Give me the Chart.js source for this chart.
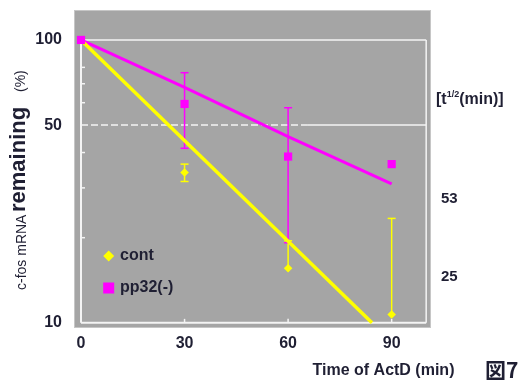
<!DOCTYPE html>
<html><head><meta charset="utf-8">
<script src="https://cdn.jsdelivr.net/npm/chart.js@4"></script>
<style>html,body{margin:0;padding:0;background:#fff;}#wrap{width:521px;height:380px;}</style>
</head><body><div id="wrap"><canvas id="c" width="521" height="380"></canvas></div>
<script>
// ---- data ----
const timePoints = [0, 30, 60, 90];
const contValues = [100, 34.0, 15.6, 10.7];
const contErrHigh = [null, 36.4, 19.5, 23.4];
const contErrLow = [null, 31.6, null, null];
const pp32Values = [100, 59.4, 38.7, 36.4];
const pp32ErrHigh = [null, 76.6, 57.6, null];
const pp32ErrLow = [null, 41.4, 19.2, null];
const contFitX = [0, 84.3];
const contFitY = [100, 10];
const pp32FitX = [0, 30, 60, 90];
const pp32FitY = [100, 68, 45.5, 31];
const xTicks = [0, 30, 60, 90];
const yTicks = [10, 50, 100];
const yMinorTicks = [20, 30, 40, 60, 70, 80];
const seriesNames = ['cont', 'pp32(-)'];
const halfLives = ['53', '25'];

const TEXT = '#1f1f33';
const FONT = '"Liberation Sans", Arial, sans-serif';
const YELLOW = '#ffff00', MAGENTA = '#ff00ff';

const toPts = (xs, ys) => xs.map((v, i) => ({x: v, y: ys[i]}));

const deco = {
  id: 'deco',
  beforeDraw(chart) {
    const {ctx, chartArea: a} = chart;
    ctx.save();
    ctx.fillStyle = '#a5a5a5';
    ctx.fillRect(a.left, a.top, a.right - a.left, a.bottom - a.top);
    ctx.strokeStyle = '#c6c6c6'; ctx.lineWidth = 1;
    ctx.strokeRect(a.left + 0.5, a.top + 0.5, a.right - a.left - 1, a.bottom - a.top - 1);
    ctx.restore();
  },
  beforeDatasetsDraw(chart) {
    const {ctx, scales: {x, y}} = chart;
    const line = (x1, y1, x2, y2) => { ctx.beginPath(); ctx.moveTo(x1, y1); ctx.lineTo(x2, y2); ctx.stroke(); };
    const x0 = x.getPixelForValue(0), x1 = x.getPixelForValue(100);
    const yT = y.getPixelForValue(100), yB = y.getPixelForValue(10), y50 = y.getPixelForValue(50);
    ctx.save();
    ctx.strokeStyle = '#f4f4f4';
    ctx.lineWidth = 1.5;
    line(x0, yT, x1, yT); line(x1, yT, x1, yB);
    const xd = x.getPixelForValue(65.5);
    line(xd, y50, x1, y50);
    ctx.setLineDash([7, 3]); line(x0, y50, xd, y50); ctx.setLineDash([]);
    ctx.lineWidth = 2;
    line(x0, yT - 1, x0, yB); line(x0, yB, x1, yB);
    ctx.lineWidth = 1.5;
    yMinorTicks.forEach(v => { const p = y.getPixelForValue(v); line(x0, p, x0 + 4, p); });
    xTicks.slice(1).forEach(v => { const p = x.getPixelForValue(v); line(p, yB, p, yB - 4); });
    const drawErr = (vals, hi, lo, color) => {
      ctx.strokeStyle = color; ctx.lineWidth = 1.5;
      timePoints.forEach((t, i) => {
        const px = x.getPixelForValue(t), c = y.getPixelForValue(vals[i]);
        if (hi[i] != null) { const p = y.getPixelForValue(hi[i]); line(px, c, px, p); line(px - 4, p, px + 4, p); }
        if (lo[i] != null) { const p = y.getPixelForValue(lo[i]); line(px, c, px, p); line(px - 4, p, px + 4, p); }
      });
    };
    drawErr(contValues, contErrHigh, contErrLow, YELLOW);
    drawErr(pp32Values, pp32ErrHigh, pp32ErrLow, MAGENTA);
    ctx.restore();
  },
  afterDraw(chart) {
    const {ctx} = chart;
    ctx.save();
    ctx.fillStyle = TEXT;
    // y title
    ctx.save();
    ctx.translate(26, 290); ctx.rotate(-Math.PI / 2);
    ctx.textAlign = 'left'; ctx.textBaseline = 'alphabetic';
    ctx.font = '14px ' + FONT; ctx.fillText('c-fos mRNA', 0, 0);
    ctx.font = 'bold 22px ' + FONT; ctx.fillText('remaining', 78, -1);
    ctx.font = '14px ' + FONT; ctx.fillText('(%)', 198, -1);
    ctx.restore();
    // x title
    ctx.textAlign = 'center'; ctx.textBaseline = 'middle';
    ctx.font = 'bold 16px ' + FONT; ctx.fillText('Time of ActD (min)', 383.5, 371);
    ctx.textAlign = 'left';
    ctx.font = 'bold 21px "Noto Sans CJK JP", ' + FONT; ctx.fillText('図7', 485, 370);
    // half-life annotation
    ctx.font = 'bold 16px ' + FONT;
    let tx = 436;
    ctx.fillText('[t', tx, 100); tx += ctx.measureText('[t').width;
    ctx.font = 'bold 9px ' + FONT; ctx.fillText('1/2', tx, 95); tx += ctx.measureText('1/2').width;
    ctx.font = 'bold 16px ' + FONT; ctx.fillText('(min)]', tx, 100);
    ctx.font = 'bold 15px ' + FONT;
    ctx.fillText(halfLives[0], 441, 199);
    ctx.fillText(halfLives[1], 441, 277);
    // legend
    ctx.fillStyle = YELLOW;
    ctx.beginPath(); ctx.moveTo(103.2, 256); ctx.lineTo(108.7, 250.5); ctx.lineTo(114.2, 256); ctx.lineTo(108.7, 261.5); ctx.closePath(); ctx.fill();
    ctx.fillStyle = MAGENTA; ctx.fillRect(103.2, 282.5, 11, 11);
    ctx.fillStyle = TEXT; ctx.font = 'bold 16px ' + FONT;
    ctx.fillText(seriesNames[0], 120, 256);
    ctx.fillText(seriesNames[1], 120, 288);
    ctx.restore();
  }
};

new Chart(document.getElementById('c'), {
  type: 'scatter',
  data: {
    datasets: [
      {label: seriesNames[1], data: toPts(timePoints, pp32Values), pointStyle: 'rect', pointRadius: 5.8,
       backgroundColor: MAGENTA, borderColor: MAGENTA, pointBorderWidth: 0, showLine: false},
      {label: seriesNames[0], data: toPts(timePoints, contValues), pointStyle: 'rectRot', pointRadius: 4.3,
       backgroundColor: YELLOW, borderColor: YELLOW, pointBorderWidth: 0, showLine: false},
      {label: 'cont fit', data: toPts(contFitX, contFitY), showLine: true, borderColor: YELLOW, borderWidth: 3.5, pointRadius: 0},
      {label: 'pp32 fit', data: toPts(pp32FitX, pp32FitY), showLine: true, borderColor: MAGENTA, borderWidth: 3, pointRadius: 0}
    ]
  },
  options: {
    responsive: false, animation: false, devicePixelRatio: 1,
    layout: {padding: {left: 0, top: 10, right: 90, bottom: 0}},
    plugins: {legend: {display: false}, tooltip: {enabled: false}},
    scales: {
      x: {type: 'linear', min: -2.03, max: 101.4, bounds: 'data',
          grid: {display: false, drawTicks: false}, border: {display: false},
          afterBuildTicks: s => { s.ticks = xTicks.map(v => ({value: v})); },
          afterFit: s => { s.height = 52; s.paddingLeft = 0; s.paddingRight = 0; },
          ticks: {padding: 6, color: TEXT, font: {family: FONT, size: 16, weight: 'bold'}, callback: v => String(v)}},
      y: {type: 'logarithmic', min: 9.59, max: 127.6, bounds: 'data',
          grid: {display: false, drawTicks: false}, border: {display: false},
          afterBuildTicks: s => { s.ticks = yTicks.map(v => ({value: v})); },
          afterFit: s => { s.width = 74; s.paddingTop = 0; s.paddingBottom = 0; },
          ticks: {padding: 12, color: TEXT, font: {family: FONT, size: 16, weight: 'bold'}, callback: v => String(v)}}
    }
  },
  plugins: [deco]
});
</script></body></html>
